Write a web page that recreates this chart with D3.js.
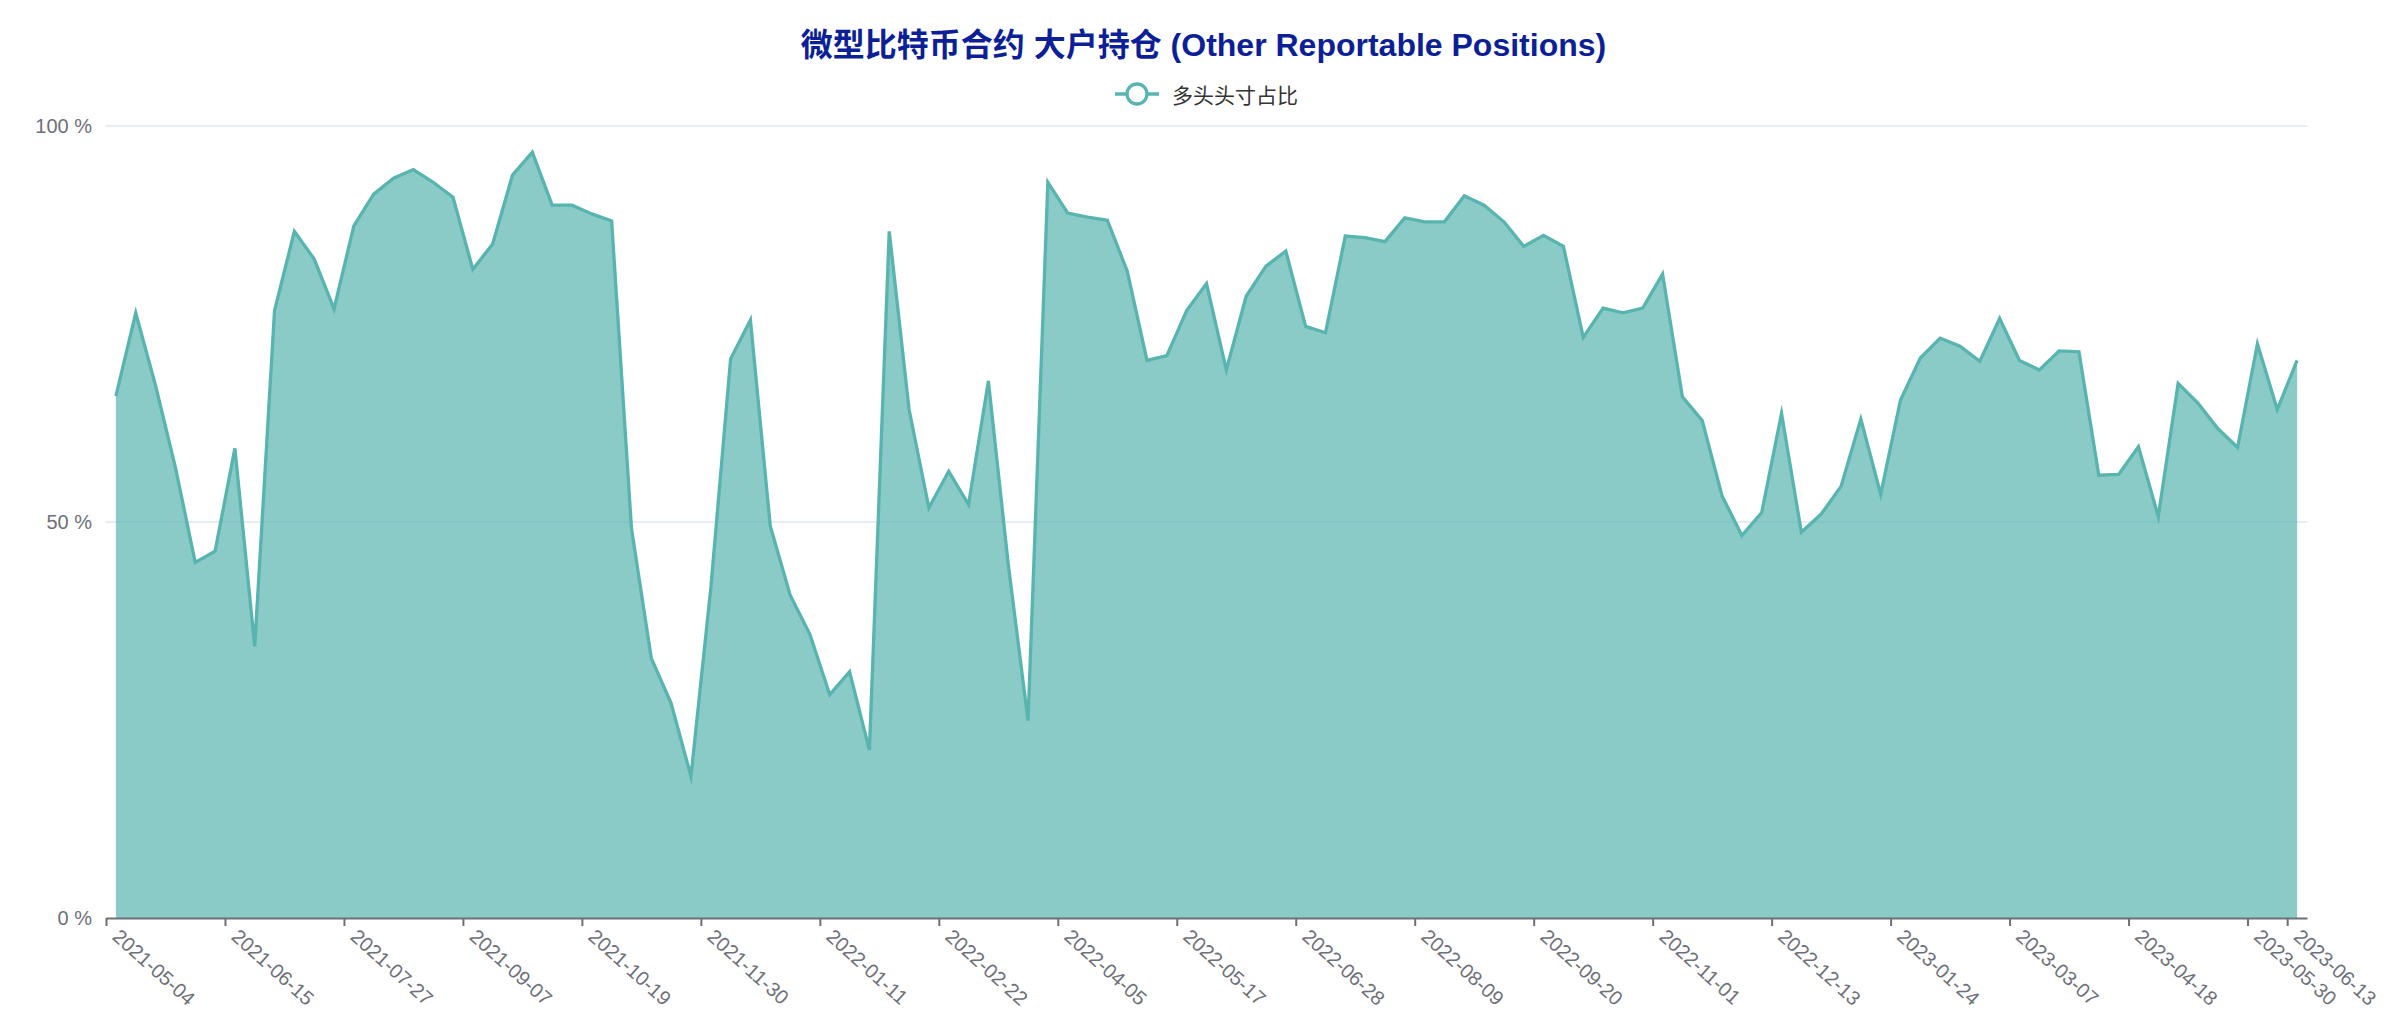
<!DOCTYPE html>
<html>
<head>
<meta charset="utf-8">
<script src="https://cdn.jsdelivr.net/npm/d3@7"></script>
<style>
  html, body { margin: 0; padding: 0; background: #ffffff; }
  svg { display: block; }
  text { font-family: "Liberation Sans", Arial, Helvetica, "Noto Sans CJK SC", sans-serif; }
</style>
</head>
<body>
<div id="chart"></div>
<script>
// ---------------- data ----------------
const titleText = "微型比特币合约 大户持仓 (Other Reportable Positions)";
const seriesName = "多头头寸占比";
const startDate = "2021-05-04";   // first weekly report date
const weekCount = 111;            // weekly reports up to 2023-06-13
const yTicks = [0, 50, 100];
const longShare = [
  65.9, 76.4, 67.2, 56.9, 44.9, 46.3, 59.3, 34.3, 76.7, 86.7,
  83.2, 76.9, 87.4, 91.4, 93.4, 94.5, 92.9, 91.0, 81.9, 85.1,
  93.8, 96.7, 90.0, 90.0, 88.9, 88.0, 49.2, 32.8, 27.1, 17.9,
  41.6, 70.6, 75.5, 49.5, 40.8, 35.8, 28.2, 31.1, 21.2, 86.7,
  64.2, 51.8, 56.4, 52.2, 67.8, 44.7, 24.9, 92.9, 89.0, 88.5,
  88.1, 81.7, 70.4, 71.0, 76.7, 80.1, 69.2, 78.5, 82.3, 84.2,
  74.7, 73.9, 86.1, 85.9, 85.4, 88.4, 87.9, 87.9, 91.2, 90.0,
  87.9, 84.8, 86.2, 84.8, 73.3, 77.0, 76.4, 77.0, 81.3, 65.8,
  62.8, 53.3, 48.3, 51.2, 63.7, 48.7, 51.0, 54.5, 63.0, 53.5,
  65.4, 70.7, 73.2, 72.2, 70.3, 75.7, 70.4, 69.2, 71.6, 71.5,
  55.9, 56.0, 59.5, 50.7, 67.5, 65.0, 61.8, 59.4, 72.5, 64.2, 70.4
];
const fmt = d3.utcFormat("%Y-%m-%d");
const dates = d3.range(weekCount).map(i => fmt(d3.utcDay.offset(new Date(startDate + "T00:00:00Z"), 7 * i)));
// labels every 6 weeks plus the last report
const labelIdx = d3.range(0, weekCount, 6).concat([weekCount - 1]);

// ---------------- layout ----------------
const W = 2407, H = 1030;
const m = { left: 106, right: 100, top: 126, bottom: 112 };
const lineColor = "#58b4af";
const gridColor = "#E0E6F1";
const axisColor = "#6E7079";

const svg = d3.select("#chart").append("svg").attr("width", W).attr("height", H);

const x = d3.scaleBand().domain(dates).range([m.left, W - m.right]).padding(0);
const xb = d3.scaleLinear().domain([0, weekCount]).range([m.left, W - m.right]);
const y = d3.scaleLinear().domain([0, 100]).range([H - m.bottom, m.top]);
const cx = d => x(d) + x.bandwidth() / 2;

// grid lines
svg.append("g").selectAll("line").data(yTicks.filter(t => t > 0)).join("line")
  .attr("x1", m.left).attr("x2", W - m.right)
  .attr("y1", d => y(d)).attr("y2", d => y(d))
  .attr("stroke", gridColor).attr("stroke-width", 1.6);

// y labels
const yAxis = svg.append("g").attr("transform", `translate(${m.left},0)`)
  .call(d3.axisLeft(y).tickValues(yTicks).tickFormat(d => d + " %").tickSize(0).tickPadding(14));
yAxis.select(".domain").remove();
yAxis.selectAll("text").attr("font-size", 20).attr("fill", axisColor)
  .style("font-family", '"Liberation Sans", Arial, sans-serif');

// area + line
const pts = dates.map((d, i) => ({ d, v: longShare[i] }));
svg.append("path").datum(pts)
  .attr("d", d3.area().x(p => cx(p.d)).y0(y(0)).y1(p => y(p.v)))
  .attr("fill", lineColor).attr("fill-opacity", 0.7);
svg.append("path").datum(pts)
  .attr("d", d3.line().x(p => cx(p.d)).y(p => y(p.v)))
  .attr("fill", "none").attr("stroke", lineColor).attr("stroke-width", 3.3)
  .attr("stroke-linejoin", "miter").attr("stroke-miterlimit", 6);

// x axis (ticks at category boundaries)
const xAxis = svg.append("g").attr("transform", `translate(0,${y(0)})`)
  .call(d3.axisBottom(xb).tickValues(labelIdx).tickFormat("").tickSize(8).tickSizeOuter(0));
xAxis.select(".domain").attr("stroke", axisColor).attr("stroke-width", 2);
xAxis.selectAll(".tick line").attr("stroke", axisColor).attr("stroke-width", 2);

// rotated x labels at category centres
svg.append("g").selectAll("text").data(labelIdx).join("text")
  .attr("transform", i => `translate(${cx(dates[i])},${y(0) + 15}) rotate(42)`)
  .attr("text-anchor", "start").attr("dominant-baseline", "central")
  .attr("font-size", 20).attr("fill", axisColor)
  .text(i => dates[i]);

// title
svg.append("text").attr("x", W / 2).attr("y", 45)
  .attr("text-anchor", "middle").attr("dominant-baseline", "central")
  .attr("font-size", 32).attr("font-weight", "bold").attr("fill", "#0c1f96")
  .style("font-family", '"Liberation Sans", Arial, "Noto Sans CJK SC", sans-serif')
  .text(titleText);

// legend
const lg = svg.append("g").attr("transform", "translate(1115,94)");
lg.append("line").attr("x1", 0).attr("x2", 44).attr("y1", 0).attr("y2", 0)
  .attr("stroke", lineColor).attr("stroke-width", 3.3);
lg.append("circle").attr("cx", 22).attr("cy", 0).attr("r", 10)
  .attr("fill", "#fff").attr("stroke", lineColor).attr("stroke-width", 3.3);
lg.append("text").attr("x", 57).attr("y", 0).attr("dominant-baseline", "central")
  .attr("font-size", 21).attr("fill", "#333")
  .style("font-family", '"Noto Sans CJK SC", sans-serif')
  .text(seriesName);
</script>
</body>
</html>
